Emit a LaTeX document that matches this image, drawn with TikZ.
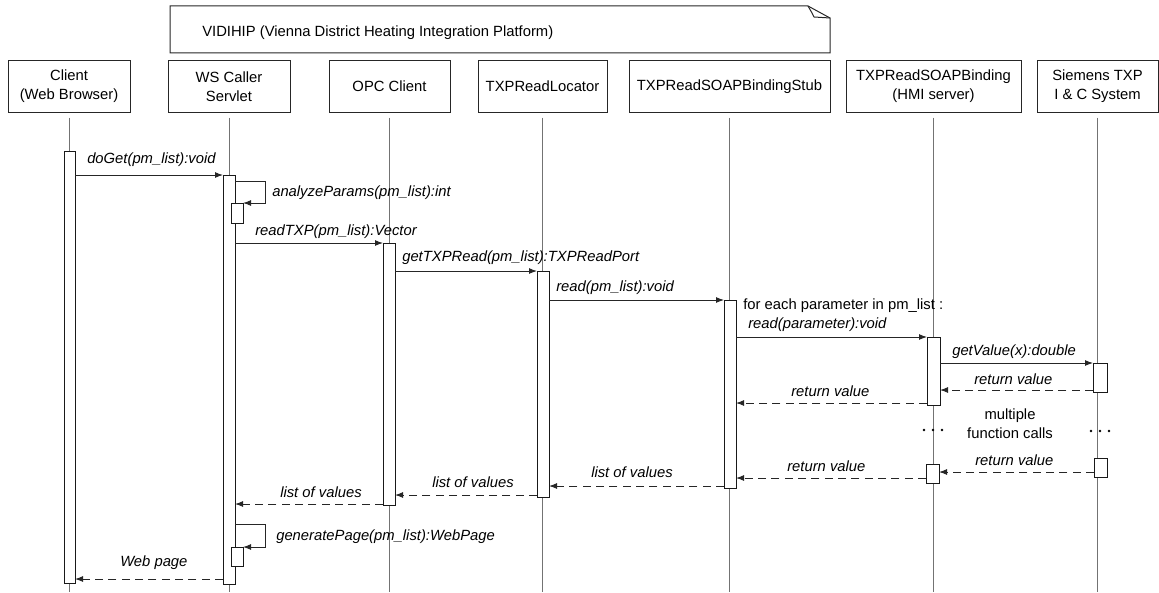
\documentclass[tikz,border=0pt]{standalone}
\usepackage{fontspec}
\setmainfont{Liberation Sans}
\usetikzlibrary{arrows.meta}
\newcommand\actbox[5]{\node[act,minimum width={(#4-#2)*0.75pt},minimum height={(#5-#3)*0.75pt}] (#1) at ({(#2+#4)/2},{(#3+#5)/2}) {};}
\begin{document}
\begin{tikzpicture}[x=0.75pt,y=-0.75pt,
 font=\fontsize{11.1}{14.25}\selectfont,
 head/.style={draw=black!85,line width=0.75pt,minimum height=38.25pt,align=center,inner sep=0pt,fill=white},
 act/.style={draw=black!90,line width=0.75pt,fill=white,inner sep=0pt,outer sep=0pt},
 lifeline/.style={draw=black!55,line width=0.75pt},
 msg/.style={draw=black!85,line width=0.75pt,-{Latex[length=6pt,width=4.5pt]}},
 ret/.style={msg,dash pattern=on 6pt off 4pt},
 lbl/.style={anchor=west,inner sep=0pt,font=\fontsize{11.1}{14.25}\selectfont\itshape},
 txt/.style={anchor=west,inner sep=0pt},
 dot/.style={fill=black,circle,inner sep=0pt,minimum size=2.2pt}]
\useasboundingbox (0,0) rectangle (1159,592);
% note
\draw[draw=black!85,line width=0.75pt] (170,6) -- (808,6) -- (830,18) -- (830,53) -- (170,53) -- cycle;
\draw[draw=black!85,line width=0.75pt] (808,6) -- (812,13) -- (814,17) -- (830,18);
\node[txt] (note) at (202,33) {VIDIHIP (Vienna District Heating Integration Platform)};
% heads
\node[head,minimum width=91.5pt] (hC) at (69,86.5) {Client\\(Web Browser)};
\node[head,minimum width=91.5pt] (hW) at (229,86.5) {WS Caller\\Servlet};
\node[head,minimum width=90.75pt] (hO) at (389.5,86.5) {OPC Client};
\node[head,minimum width=96.75pt] (hL) at (542.5,86.5) {TXPReadLocator};
\node[head,minimum width=150.75pt] (hS) at (729.5,86.5) {TXPReadSOAPBindingStub};
\node[head,minimum width=131.25pt] (hB) at (933.5,86.5) {TXPReadSOAPBinding\\(HMI server)};
\node[head,minimum width=90.75pt] (hT) at (1097.5,86.5) {Siemens TXP\\I \& C System};
% lifelines
\foreach \h in {hC,hW,hO,hL,hS,hB,hT}
  \draw[lifeline] ([yshift=-3.75pt]\h.south) -- (\h.south |- 0,592);
% activations
\actbox{aC}{64}{151}{75}{583}
\actbox{aW}{223}{175}{235}{584}
\actbox{aW2}{231}{203}{243}{223}
\actbox{aO}{383}{243}{395}{505}
\actbox{aL}{537}{271}{549}{497}
\actbox{aS}{724}{300}{736}{488}
\actbox{aB1}{927}{337}{940}{405}
\actbox{aT1}{1093}{363}{1107}{392}
\actbox{aB2}{926}{464}{939}{483}
\actbox{aT2}{1094}{458}{1107}{477}
\actbox{aW3}{231}{547}{243}{566}
% messages
\draw[msg] (aC.east |- aW.north) -- (aW.north west);
\node[lbl] (l1) at (87,160) {doGet(pm\_list):void};
\draw[msg] (aW.east |- 0,181) -- (265,181) -- (265,203) -- (aW2.north east);
\node[lbl] (l2) at (272,193) {analyzeParams(pm\_list):int};
\draw[msg] (aW.east |- aO.north) -- (aO.north west);
\node[lbl] (l3) at (255,232) {readTXP(pm\_list):Vector};
\draw[msg] (aO.east |- aL.north) -- (aL.north west);
\node[lbl] (l4) at (402,258) {getTXPRead(pm\_list):TXPReadPort};
\draw[msg] (aL.east |- aS.north) -- (aS.north west);
\node[lbl] (l5) at (556,288) {read(pm\_list):void};
\node[txt] (l6) at (743,306) {for each parameter in pm\_list :};
\draw[msg] (aS.east |- aB1.north) -- (aB1.north west);
\node[lbl] (l7) at (748,325) {read(parameter):void};
\draw[msg] (aB1.east |- aT1.north) -- (aT1.north west);
\node[lbl] (l8) at (952,352) {getValue(x):double};
\draw[ret] (aT1.west |- 0,390) -- (aB1.east |- 0,390);
\node[lbl] (l9) at (974,379) {return value};
\draw[ret] (aB1.west |- 0,403) -- (aS.east |- 0,403);
\node[lbl] (l10) at (791,391) {return value};
\node[align=center,inner sep=0pt] (mf) at (1010,424) {multiple\\function calls};
\foreach \xx in {924,933,942} \node[dot] at (\xx,430) {};
\foreach \xx in {1091,1100,1109} \node[dot] at (\xx,431) {};
\draw[ret] (aT2.west |- 0,472) -- (aB2.east |- 0,472);
\node[lbl] (l11) at (975,460) {return value};
\draw[ret] (aB2.west |- 0,478) -- (aS.east |- 0,478);
\node[lbl] (l12) at (787,466) {return value};
\draw[ret] (aS.west |- 0,486) -- (aL.east |- 0,486);
\node[lbl] (l13) at (591,472) {list of values};
\draw[ret] (aL.west |- 0,495) -- (aO.east |- 0,495);
\node[lbl] (l14) at (432,482) {list of values};
\draw[ret] (aO.west |- 0,504) -- (aW.east |- 0,504);
\node[lbl] (l15) at (280,492) {list of values};
\draw[msg] (aW.east |- 0,524) -- (265,524) -- (265,547) -- (aW3.north east);
\node[lbl] (l16) at (276,537) {generatePage(pm\_list):WebPage};
\draw[ret] (aW.west |- 0,579) -- (aC.east |- 0,579);
\node[lbl] (l17) at (120,563) {Web page};
\end{tikzpicture}
\end{document}
